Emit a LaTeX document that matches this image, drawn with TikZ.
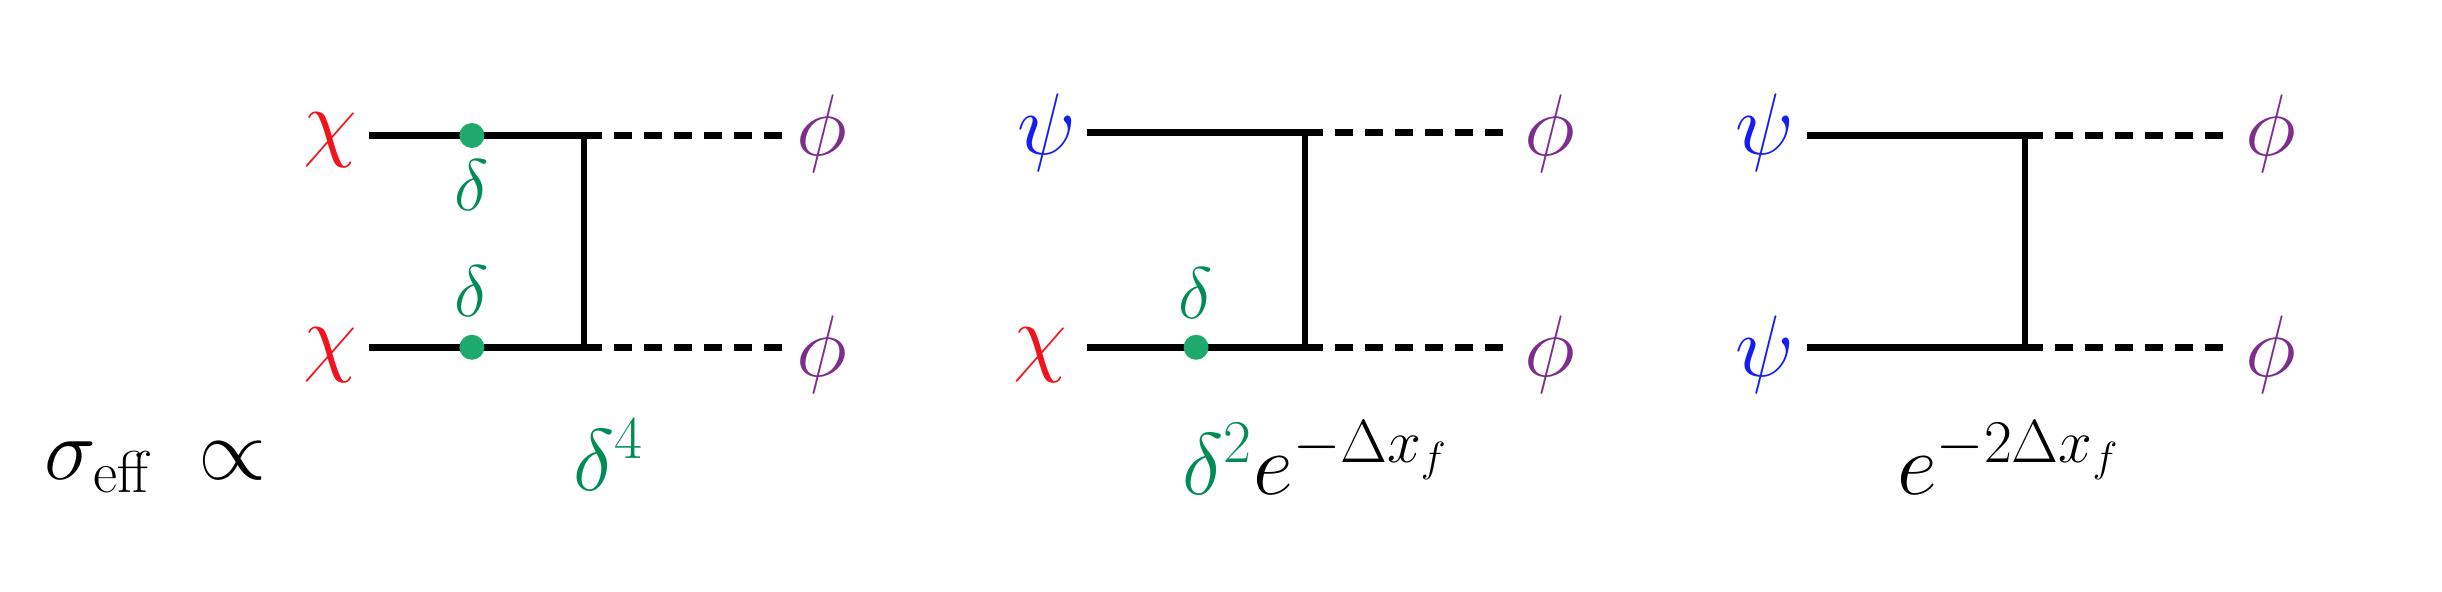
\documentclass[tikz,border=0pt]{standalone}
\usepackage{amsmath}
\definecolor{cred}{RGB}{240,20,30}
\definecolor{cblue}{RGB}{20,30,240}
\definecolor{cpurp}{RGB}{125,45,140}
\definecolor{cgreen}{RGB}{0,140,85}
\definecolor{cdot}{RGB}{30,170,110}
\begin{document}
\begin{tikzpicture}[x=0.015574cm,y=-0.015574cm,
  sol/.style={line width=1.9pt},
  dsh/.style={line width=1.9pt,dash pattern=on 0.18cm off 0.12cm},
  vert/.style={line width=1.7pt},
  big/.style={font=\fontsize{27}{30}\selectfont,inner sep=0pt},
  med/.style={font=\fontsize{20}{24}\selectfont,inner sep=0pt,text=cgreen},
  lab/.style={font=\fontsize{24}{28}\selectfont,inner sep=0pt},
  dotn/.style={circle,fill=cdot,minimum size=0.25cm,inner sep=0pt}]
\useasboundingbox (0,0) rectangle (1568,380);
% diagram 1
\node[big,text=cred] (a1) at (212,90) {$\chi$};
\node[big,text=cred] (a2) at (212,228) {$\chi$};
\node[big,text=cpurp] (p1) at (528,86) {$\phi$};
\node[big,text=cpurp] (p2) at (528,228) {$\phi$};
\coordinate (v1) at (375,87); \coordinate (v2) at (375,223);
\coordinate (s1) at (237,87); \coordinate (s2) at (237,223);
\coordinate (e1) at (502,87); \coordinate (e2) at (502,223);
\draw[sol] (s1) -- (v1); \draw[sol] (s2) -- (v2);
\draw[vert] (v1) -- (v2);
\draw[dsh] (v1) -- (e1); \draw[dsh] (v2) -- (e2);
\node[dotn] (d1) at (303,87) {}; \node[dotn] (d2) at (303,223) {};
\node[med] (l1) at (303,119) {$\delta$};
\node[med] (l2) at (303,187) {$\delta$};
% diagram 2
\node[big,text=cblue] (b1) at (672,85) {$\psi$};
\node[big,text=cred] (b2) at (668,228) {$\chi$};
\node[big,text=cpurp] (q1) at (995,86) {$\phi$};
\node[big,text=cpurp] (q2) at (995,228) {$\phi$};
\coordinate (w1) at (838,85); \coordinate (w2) at (838,223);
\coordinate (t1) at (698,85); \coordinate (t2) at (698,223);
\coordinate (f1) at (966,85); \coordinate (f2) at (966,223);
\draw[sol] (t1) -- (w1); \draw[sol] (t2) -- (w2);
\draw[vert] (w1) -- (w2);
\draw[dsh] (w1) -- (f1); \draw[dsh] (w2) -- (f2);
\node[dotn] (d3) at (768,223) {};
\node[med] (l3) at (768,188) {$\delta$};
% diagram 3
\node[big,text=cblue] (c1) at (1133,85) {$\psi$};
\node[big,text=cblue] (c2) at (1133,228) {$\psi$};
\node[big,text=cpurp] (r1) at (1458,86) {$\phi$};
\node[big,text=cpurp] (r2) at (1458,228) {$\phi$};
\coordinate (x1) at (1300,87); \coordinate (x2) at (1300,223);
\coordinate (g1) at (1160,87); \coordinate (g2) at (1160,223);
\coordinate (h1) at (1430,87); \coordinate (h2) at (1430,223);
\draw[sol] (g1) -- (x1); \draw[sol] (g2) -- (x2);
\draw[vert] (x1) -- (x2);
\draw[dsh] (x1) -- (h1); \draw[dsh] (x2) -- (h2);
% labels
\node[lab] (sig) at (100,300) {$\sigma_{\text{eff}}\;\propto$};
\node[lab,text=cgreen] (k1) at (391,292) {$\delta^4$};
\node[lab] (k2) at (845,294) {$\color{cgreen}\delta^2\color{black}e^{-\Delta x_f}$};
\node[lab] (k3) at (1290,294) {$e^{-2\Delta x_f}$};
\end{tikzpicture}
\end{document}
